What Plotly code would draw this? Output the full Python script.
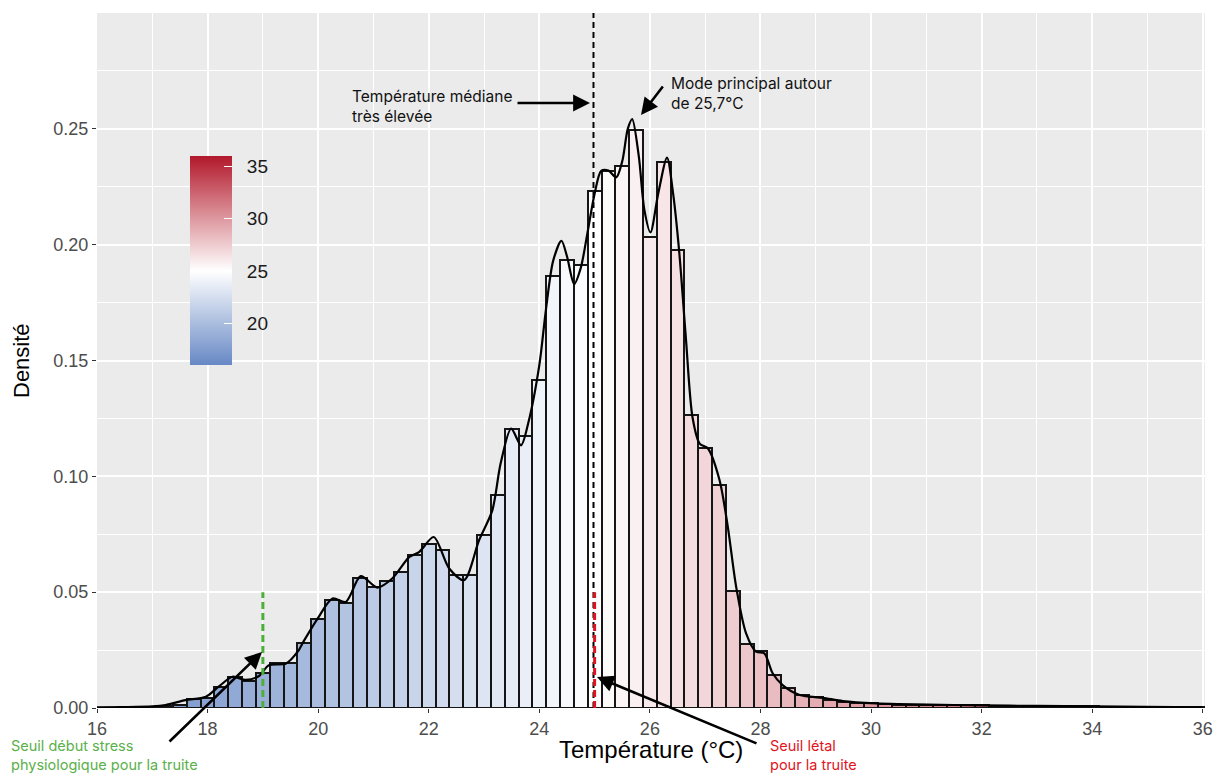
import plotly.graph_objects as go

# ---------------- data ----------------
bin_start = 16.0
bin_width = 0.25
hist_density = [
    0.0002, 0.0002, 0.0003, 0.0004, 0.0006, 0.0009, 0.0013, 0.0040,   # 16.00 - 17.75
    0.0045, 0.0090, 0.0135, 0.0116, 0.0150, 0.0195, 0.0195, 0.0280,   # 18.00 - 19.75
    0.0384, 0.0467, 0.0455, 0.0563, 0.0522, 0.0549, 0.0588, 0.0662,   # 20.00 - 21.75
    0.0710, 0.0684, 0.0576, 0.0576, 0.0746, 0.0918, 0.1206, 0.1172,   # 22.00 - 23.75
    0.1414, 0.1866, 0.1934, 0.1912, 0.2233, 0.2319, 0.2341, 0.2495,   # 24.00 - 25.75
    0.2034, 0.2355, 0.1977, 0.1263, 0.1122, 0.0961, 0.0506, 0.0276,   # 26.00 - 27.75
    0.0247, 0.0142, 0.0088, 0.0056, 0.0046, 0.0034, 0.0026, 0.0022,   # 28.00 - 29.75
    0.0020, 0.0017, 0.0015, 0.0014, 0.0013, 0.0012, 0.0012, 0.0011,   # 30.00 - 31.75
    0.0011, 0.0010, 0.0010, 0.0009, 0.0009, 0.0008, 0.0008, 0.0007,   # 32.00 - 33.75
    0.0007, 0.0006, 0.0006, 0.0005, 0.0005, 0.0004, 0.0004, 0.0003,   # 34.00 - 35.75
    0.0003,                                                           # 36.00
]
bin_centers = [round(bin_start + bin_width * i, 2) for i in range(len(hist_density))]

kde_x = [16.0, 16.5, 17.0, 17.24, 17.6, 17.97, 18.2, 18.45, 18.69, 18.93, 19.11, 19.42,
         19.63, 19.75, 19.99, 20.26, 20.5, 20.77, 21.07, 21.34, 21.65, 21.83, 22.09, 22.37,
         22.64, 22.91, 23.15, 23.3, 23.49, 23.67, 23.8, 24.0, 24.12, 24.25, 24.4, 24.5,
         24.63, 24.75, 24.87, 25.0, 25.12, 25.25, 25.39, 25.5, 25.6, 25.68, 25.8, 25.9,
         26.01, 26.15, 26.31, 26.42, 26.53, 26.65, 26.77, 26.9, 27.05, 27.26, 27.41, 27.56,
         27.74, 27.92, 28.07, 28.22, 28.4, 28.71, 29.13, 29.49, 30.09, 30.5, 31.5, 32.5,
         33.5, 34.5, 35.5, 36.0]
kde_y = [0.0003, 0.0004, 0.0007, 0.0013, 0.0034, 0.0049, 0.0092, 0.0135, 0.0121, 0.0138, 0.0185, 0.0192,
         0.0243, 0.0293, 0.0386, 0.0473, 0.0458, 0.0569, 0.0520, 0.0559, 0.0652, 0.0674, 0.0738, 0.0602,
         0.0552, 0.0724, 0.0853, 0.1055, 0.1206, 0.1134, 0.1230, 0.1480, 0.1720, 0.1930, 0.2017, 0.1950,
         0.1830, 0.1900, 0.2050, 0.2220, 0.2319, 0.2320, 0.2290, 0.2360, 0.2500, 0.2542, 0.2380, 0.2150,
         0.2053, 0.2220, 0.2376, 0.2220, 0.1970, 0.1600, 0.1256, 0.1141, 0.1120, 0.0983, 0.0781, 0.0523,
         0.0322, 0.0243, 0.0236, 0.0150, 0.0099, 0.0056, 0.0044, 0.0030, 0.0020, 0.0017, 0.0013, 0.0010,
         0.0008, 0.0006, 0.0004, 0.0003]

median_temp = 24.98
stress_threshold = 19.0
lethal_threshold = 25.0
threshold_line_top = 0.05

colorbar_ticks = [20, 25, 30, 35]

# ---------------- geometry helpers (pixel -> paper) ----------------
PL, PR, PT, PB = 97, 13, 13, 66
W, H = 1218, 774
pw, ph = W - PL - PR, H - PT - PB


def px(xp):
    return (xp - PL) / pw


def py(yp):
    return (H - PB - yp) / ph


colorscale = [
    [0.0, "#6788C5"],
    [0.225, "#B3C4E2"],
    [0.45, "#FFFFFF"],
    [0.725, "#DA8E96"],
    [1.0, "#B2182B"],
]

fig = go.Figure()

fig.add_trace(go.Bar(
    x=bin_centers, y=hist_density, width=bin_width,
    marker=dict(
        color=bin_centers, colorscale=colorscale, cmin=16, cmax=36,
        line=dict(color="#151515", width=2),
        showscale=True,
        colorbar=dict(
            x=px(190), xanchor="left", xpad=0,
            y=py(260.5), yanchor="middle", ypad=0,
            len=209 / ph, lenmode="fraction",
            thickness=42, thicknessmode="pixels",
            outlinewidth=0,
            tickvals=colorbar_ticks,
            ticktext=["  " + str(t) for t in colorbar_ticks],
            ticks="inside", ticklen=8, tickcolor="white", tickwidth=1,
            tickfont=dict(family="Liberation Sans, Arial", size=19, color="#1a1a1a"),
        ),
    ),
    hoverinfo="skip",
))

fig.add_trace(go.Scatter(
    x=kde_x, y=kde_y, mode="lines",
    line=dict(color="black", width=2.2, shape="spline", smoothing=0.8),
    hoverinfo="skip",
))

shapes = [
    dict(type="line", xref="x", yref="y", x0=median_temp, x1=median_temp, y0=0, y1=0.3,
         line=dict(color="black", width=2, dash="6px,4px")),
    dict(type="line", xref="x", yref="y", x0=stress_threshold, x1=stress_threshold, y0=0,
         y1=threshold_line_top, line=dict(color="#4CAF3A", width=3, dash="7px,4px")),
    dict(type="line", xref="x", yref="y", x0=lethal_threshold, x1=lethal_threshold, y0=0,
         y1=threshold_line_top, line=dict(color="#E0141E", width=3, dash="7px,4px")),
]

ann_font = "Inter, Open Sans, sans-serif"
annotations = []


def text_ann(x_px, y_px, text, color, size=15):
    annotations.append(dict(
        xref="paper", yref="paper", x=px(x_px), y=py(y_px), text=text,
        showarrow=False, xanchor="left", yanchor="middle", align="left",
        font=dict(family=ann_font, size=size, color=color),
    ))


def arrow_ann(x0p, y0p, x1p, y1p):
    annotations.append(dict(
        xref="paper", yref="paper", x=px(x1p), y=py(y1p),
        axref="pixel", ayref="pixel", ax=x0p - x1p, ay=y0p - y1p,
        text="", showarrow=True, arrowhead=2, arrowsize=1.3, arrowwidth=2.6,
        arrowcolor="black", standoff=0, startstandoff=0,
    ))


text_ann(350, 106, "Température médiane<br>très élevée", "#111111", 15.5)
text_ann(669, 94, "Mode principal autour<br>de 25,7°C", "#111111", 15.5)
text_ann(9, 755, "Seuil début stress<br>physiologique pour la truite", "#5AB04A", 14.5)
text_ann(768, 755, "Seuil létal<br>pour la truite", "#E0141E", 14.5)

arrow_ann(516, 103, 590, 103)
arrow_ann(664, 85, 641, 115)
arrow_ann(168, 743, 262, 652)
arrow_ann(758, 744, 597, 677)

# axis titles
annotations.append(dict(
    xref="paper", yref="paper", x=px(651), y=py(750), text="Température (°C)",
    showarrow=False, xanchor="center", yanchor="middle",
    font=dict(family="Liberation Sans, Arial", size=24, color="black"),
))
annotations.append(dict(
    xref="paper", yref="paper", x=px(22), y=py(361), text="Densité", textangle=-90,
    showarrow=False, xanchor="center", yanchor="middle",
    font=dict(family="Liberation Sans, Arial", size=22, color="black"),
))

fig.update_layout(
    width=W, height=H, autosize=False,
    margin=dict(l=PL, r=PR, t=PT, b=PB, autoexpand=False),
    paper_bgcolor="white", plot_bgcolor="#EBEBEB",
    showlegend=False, bargap=0,
    shapes=shapes, annotations=annotations,
    font=dict(family="Liberation Sans, Arial"),
)

fig.update_xaxes(
    range=[16, 36.04], tickvals=[16, 18, 20, 22, 24, 26, 28, 30, 32, 34, 36],
    automargin=False,
    showgrid=True, gridcolor="white", gridwidth=1.5,
    minor=dict(dtick=1, tick0=16, showgrid=True, gridcolor="white", gridwidth=0.7),
    ticks="outside", ticklen=4, tickcolor="#333333", tickwidth=1.1,
    tickfont=dict(size=18, color="#4D4D4D"),
    zeroline=False, showline=False,
)
fig.update_yaxes(
    range=[0, 0.3], tickvals=[0, 0.05, 0.10, 0.15, 0.20, 0.25], tickformat=".2f",
    automargin=False,
    showgrid=True, gridcolor="white", gridwidth=1.5,
    minor=dict(dtick=0.025, tick0=0, showgrid=True, gridcolor="white", gridwidth=0.7),
    ticks="outside", ticklen=4, tickcolor="#333333", tickwidth=1.1,
    tickfont=dict(size=18, color="#4D4D4D"),
    zeroline=False, showline=False,
)

fig.write_html("out.html", config={"displayModeBar": False},
               post_script="document.body.style.margin='0';")
